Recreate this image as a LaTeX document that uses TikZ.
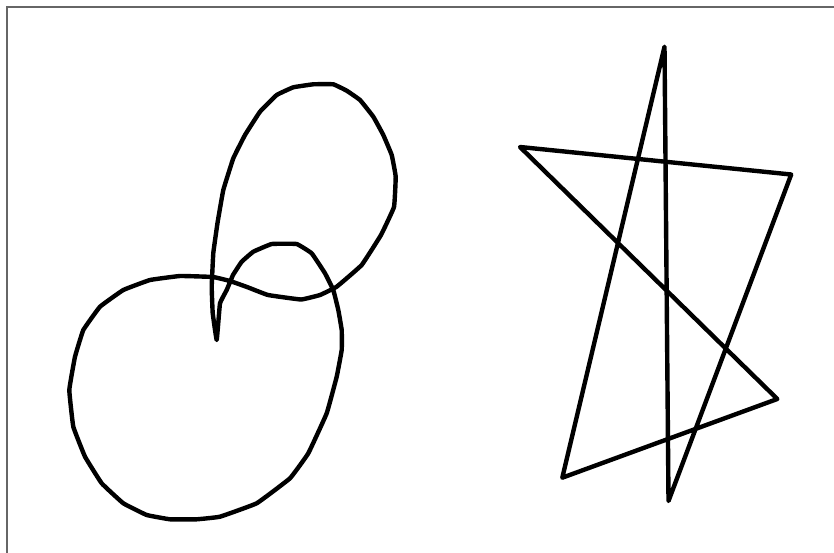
\documentclass[tikz,border=0pt]{standalone}
\begin{document}
\begin{tikzpicture}[x=1pt,y=-1pt,
  stroke/.style={line width=4.4pt,black,line join=round,line cap=round},
  frame/.style={line width=1.2pt,color=black!60}]
\useasboundingbox (0,0) rectangle (834,553);
% frame
\draw[frame] (7,553) -- (7,7) -- (834,7);
% left curve
\draw[stroke] plot[smooth cycle,tension=0.15] coordinates {
(216.7,340) (212.7,313) (211.7,286.7) (213.3,253) (217.5,223) (223.3,190)
(233.3,158.3) (245,135) (260,111.7) (276.7,95) (293.3,87.3) (313.3,84.3)
(333.3,84.3) (346.7,90.7) (360,100) (373.3,116.7) (383.3,135) (391.7,155)
(395.7,176.7) (394,207) (381,235) (361.7,265) (336.7,286.7) (320,295)
(301,299.5) (268,295) (247,287) (230,281) (213,277) (180,276) (150,280)
(123.3,290) (100,306.7) (83.3,330) (75,356.7) (69.3,390) (73.3,426.7)
(85,456.7) (101.7,483.3) (123.3,503.3) (146.7,515) (170,519.3) (196.7,519.3)
(220,516.7) (256.7,503.3) (290,478.3) (308.3,453.3) (326.7,413.3)
(336.7,376.7) (341.7,350) (341.7,330) (338.3,310) (333.3,290) (325,273.3)
(311.7,253.3) (296.7,244) (271.7,244) (253.3,251.7) (241.7,261.7)
(233,275) (226.7,290) (220,303.3)};
% right polygon
\coordinate (t) at (664.5,46.7);
\coordinate (bl) at (562.3,477.7);
\coordinate (rl) at (777.3,399);
\coordinate (l) at (520,147);
\coordinate (ru) at (791.2,174.5);
\coordinate (b) at (668.5,501);
\draw[stroke] (t) -- (bl) -- (rl) -- (l) -- (ru) -- (b) -- cycle;
\end{tikzpicture}
\end{document}
